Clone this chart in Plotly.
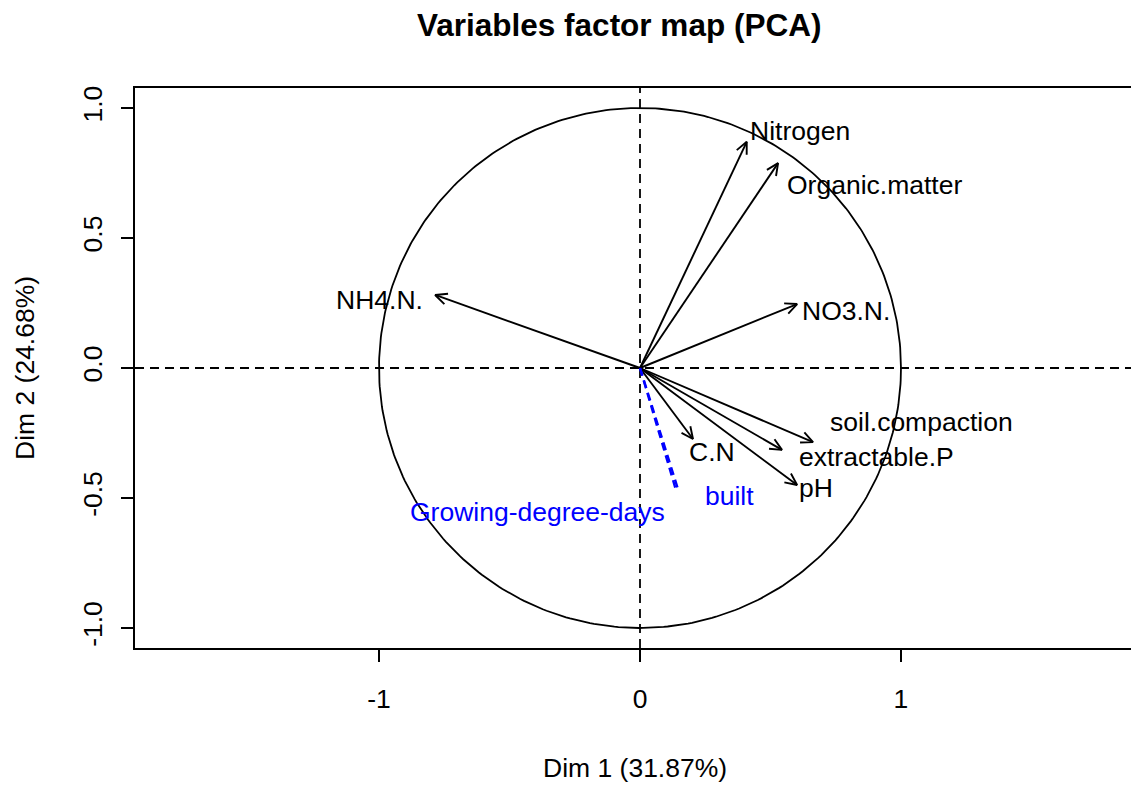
import numpy as np
import plotly.graph_objects as go

# ---- data ----
var_names = ["Nitrogen", "Organic.matter", "NO3.N.", "NH4.N.", "soil.compaction",
             "extractable.P", "pH", "C.N"]
dim1 = [0.409, 0.529, 0.602, -0.785, 0.663, 0.544, 0.602, 0.203]
dim2 = [0.870, 0.788, 0.246, 0.281, -0.285, -0.315, -0.450, -0.273]

sup_names = ["built", "Growing-degree-days"]
sup_dim1 = [0.149, 0.135]
sup_dim2 = [-0.477, -0.460]

x_ticks = [-1, 0, 1]
y_ticks = [-1.0, -0.5, 0.0, 0.5, 1.0]
y_tick_text = ["-1.0", "-0.5", "0.0", "0.5", "1.0"]

title = "Variables factor map (PCA)"
xlab = "Dim 1 (31.87%)"
ylab = "Dim 2 (24.68%)"

# ---- style / layout ----
OFF = 8  # page body margin
W, H = 1139 - OFF, 785 - OFF
ML, MR, MT, MB = 135 - OFF, 0, 88 - OFF, 785 - 648
XR = [-1.935, 1.912]
YR = [-1.077, 1.077]
PW, PH = W - ML - MR, H - MT - MB
sx = PW / (XR[1] - XR[0])
sy = PH / (YR[1] - YR[0])

FONT = "Liberation Sans, Arial, sans-serif"
FS = 26.5

# label placement (anchor, xshift, yshift) in pixels
label_style = {
    "Nitrogen": ("left", 1, 11),
    "Organic.matter": ("left", 7, -22),
    "NO3.N.": ("left", 3, -7),
    "NH4.N.": ("right", -10, -5),
    "soil.compaction": ("left", 15, 20),
    "extractable.P": ("left", 15, -7),
    "pH": ("left", 0, -3),
    "C.N": ("left", -6, -13),
    "built": ("left", 24, -4),
    "Growing-degree-days": ("right", -8, -24),
}

fig = go.Figure()

# circle
t = np.linspace(0, 2 * np.pi, 400)
fig.add_trace(go.Scatter(x=np.cos(t), y=np.sin(t), mode="lines",
                         line=dict(color="black", width=1.8), hoverinfo="skip"))

# dashed axes lines
fig.add_trace(go.Scatter(x=[XR[0], XR[1]], y=[0, 0], mode="lines",
                         line=dict(color="black", width=1.8, dash="9px,6px"), hoverinfo="skip"))
fig.add_trace(go.Scatter(x=[0, 0], y=[YR[0], YR[1]], mode="lines",
                         line=dict(color="black", width=1.8, dash="9px,6px"), hoverinfo="skip"))

# arrows
HL = 13.0
ANG = np.deg2rad(25)
for name, x, y in zip(var_names, dim1, dim2):
    px, py = x * sx, y * sy
    n = np.hypot(px, py)
    ux, uy = px / n, py / n
    hx, hy = [], []
    for a in (ANG, -ANG):
        rx = ux * np.cos(a) - uy * np.sin(a)
        ry = ux * np.sin(a) + uy * np.cos(a)
        hx.append(x - HL * rx / sx)
        hy.append(y - HL * ry / sy)
    fig.add_trace(go.Scatter(x=[0, x, None, hx[0], x, hx[1]],
                             y=[0, y, None, hy[0], y, hy[1]],
                             mode="lines", line=dict(color="black", width=1.9),
                             hoverinfo="skip"))

for name, x, y in zip(sup_names, sup_dim1, sup_dim2):
    fig.add_trace(go.Scatter(x=[0, x], y=[0, y], mode="lines",
                             line=dict(color="blue", width=2.4, dash="8px,5px"),
                             hoverinfo="skip"))

annotations = []
for name, x, y in zip(var_names, dim1, dim2):
    anc, xs, ys = label_style[name]
    annotations.append(dict(x=x, y=y, xref="x", yref="y", text=name, showarrow=False,
                            xanchor=anc, yanchor="middle", xshift=xs, yshift=ys,
                            font=dict(family=FONT, size=FS, color="black")))
for name, x, y in zip(sup_names, sup_dim1, sup_dim2):
    anc, xs, ys = label_style[name]
    annotations.append(dict(x=x, y=y, xref="x", yref="y", text=name, showarrow=False,
                            xanchor=anc, yanchor="middle", xshift=xs, yshift=ys,
                            font=dict(family=FONT, size=FS, color="blue")))


def px2paper(xp, yp):
    # reference page pixels -> paper coords
    xp, yp = xp - OFF, yp - OFF
    return (xp - ML) / PW, (H - MB - yp) / PH


tx, ty = px2paper(619, 25)
annotations.append(dict(x=tx, y=ty, xref="paper", yref="paper", text="<b>" + title + "</b>",
                        showarrow=False, xanchor="center", yanchor="middle",
                        font=dict(family=FONT, size=31.5, color="black")))
tx, ty = px2paper(635, 768)
annotations.append(dict(x=tx, y=ty, xref="paper", yref="paper", text=xlab,
                        showarrow=False, xanchor="center", yanchor="middle",
                        font=dict(family=FONT, size=FS, color="black")))
tx, ty = px2paper(25, 368)
annotations.append(dict(x=tx, y=ty, xref="paper", yref="paper", text=ylab, textangle=-90,
                        showarrow=False, xanchor="center", yanchor="middle",
                        font=dict(family=FONT, size=FS, color="black")))

fig.update_layout(
    width=W, height=H,
    margin=dict(l=ML, r=MR, t=MT, b=MB, pad=0, autoexpand=False),
    paper_bgcolor="white", plot_bgcolor="white",
    showlegend=False,
    annotations=annotations,
    xaxis=dict(range=XR, tickvals=x_ticks, ticktext=[str(v) for v in x_ticks],
               automargin=False,
               showgrid=False, zeroline=False, showline=True, linecolor="black", linewidth=2,
               mirror=True, ticks="outside", ticklen=12, tickwidth=2, tickcolor="black",
               ticklabelstandoff=14,
               tickfont=dict(family=FONT, size=FS, color="black")),
    yaxis=dict(range=YR, tickvals=y_ticks, ticktext=y_tick_text, tickangle=-90,
               automargin=False,
               showgrid=False, zeroline=False, showline=True, linecolor="black", linewidth=2,
               mirror=False, ticks="outside", ticklen=12, tickwidth=2, tickcolor="black",
               ticklabelstandoff=8,
               tickfont=dict(family=FONT, size=FS, color="black")),
)

fig.write_html("out.html")
